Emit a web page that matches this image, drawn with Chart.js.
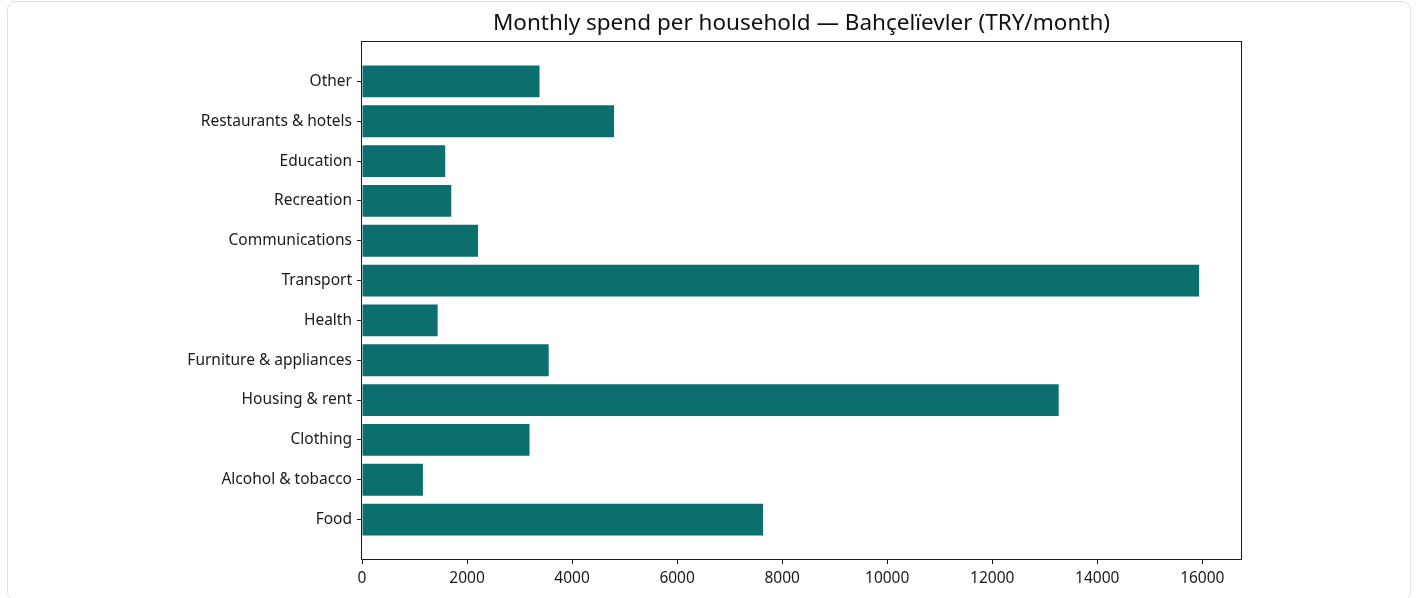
<!DOCTYPE html>
<html>
<head>
<meta charset="utf-8">
<title>Monthly spend per household</title>
<script src="https://cdn.jsdelivr.net/npm/chart.js@4.4.1/dist/chart.umd.min.js"></script>
<style>
  html, body { margin: 0; padding: 0; background: #fff; }
  #wrap { position: relative; width: 1417px; height: 598px; overflow: hidden; }
  #frame {
    position: absolute; left: 7px; top: 1px; width: 1404px; height: 600px;
    border: 1px solid #dde1e6; border-radius: 9px; box-sizing: border-box;
  }
  canvas { position: absolute; left: 0; top: 0; }
</style>
</head>
<body>
<div id="wrap">
  <div id="frame"></div>
  <canvas id="spendChart" width="1417" height="598"></canvas>
</div>
<script>
// Categories bottom-to-top (Food sits at the bottom of the chart)
const categories = [
  'Food', 'Alcohol & tobacco', 'Clothing', 'Housing & rent',
  'Furniture & appliances', 'Health', 'Transport', 'Communications',
  'Recreation', 'Education', 'Restaurants & hotels', 'Other'
];
const spend = [7635, 1160, 3190, 13265, 3555, 1440, 15940, 2210, 1700, 1585, 4800, 3380];
const xTickValues = [0, 2000, 4000, 6000, 8000, 10000, 12000, 14000, 16000];
const chartTitle = 'Monthly spend per household — Bahçelïevler (TRY/month)';

const BAR_COLOR = '#0c6e6d';
const FONT = '"Noto Sans", "Open Sans", sans-serif';

// matplotlib-like 5% margins
const xMax = Math.max(...spend) * 1.05;
const yPad = 0.4 + (categories.length - 1 + 0.8) * 0.05;

const framePlugin = {
  id: 'frame',
  afterDraw(chart) {
    const { ctx, chartArea: a } = chart;
    ctx.save();
    ctx.strokeStyle = '#1a1a1a';
    ctx.lineWidth = 1;
    ctx.strokeRect(a.left - 0.5, a.top - 0.5, a.right - a.left + 1, a.bottom - a.top + 1);
    ctx.fillStyle = '#111';
    ctx.font = '22.5px ' + FONT;
    ctx.textAlign = 'center';
    ctx.textBaseline = 'middle';
    ctx.fillText(chartTitle, (a.left + a.right) / 2, 24);
    ctx.restore();
  }
};

new Chart(document.getElementById('spendChart'), {
  type: 'bar',
  data: {
    datasets: [{
      data: spend.map((v, i) => ({ x: v, y: i })),
      backgroundColor: BAR_COLOR,
      borderWidth: 0,
      barPercentage: 0.8,
      categoryPercentage: 1
    }]
  },
  options: {
    indexAxis: 'y',
    responsive: false,
    animation: false,
    devicePixelRatio: 1,
    layout: { padding: { top: 42, right: 176, left: 0, bottom: 0 } },
    plugins: {
      legend: { display: false },
      tooltip: { enabled: false },
      title: { display: false }
    },
    scales: {
      x: {
        type: 'linear',
        min: 0,
        max: xMax,
        afterBuildTicks: (scale) => { scale.ticks = xTickValues.map(v => ({ value: v })); },
        afterFit: (scale) => { scale.height = 39; },
        border: { display: false },
        grid: { drawOnChartArea: false, tickLength: 5, tickColor: '#1a1a1a', tickWidth: 1 },
        ticks: {
          color: '#1a1a1a',
          font: { family: FONT, size: 15.5 },
          padding: 5,
          maxRotation: 0,
          autoSkip: false,
          callback: (v) => String(v)
        }
      },
      y: {
        type: 'linear',
        offset: false,
        min: -yPad,
        max: categories.length - 1 + yPad,
        afterBuildTicks: (scale) => { scale.ticks = categories.map((c, i) => ({ value: i })); },
        afterFit: (scale) => { scale.width = 362; },
        border: { display: false },
        grid: { offset: false, drawOnChartArea: false, tickLength: 5, tickColor: '#1a1a1a', tickWidth: 1 },
        ticks: {
          color: '#1a1a1a',
          font: { family: FONT, size: 15.5 },
          padding: 5,
          autoSkip: false,
          callback: (v) => categories[v]
        }
      }
    }
  },
  plugins: [framePlugin]
});
</script>
</body>
</html>
